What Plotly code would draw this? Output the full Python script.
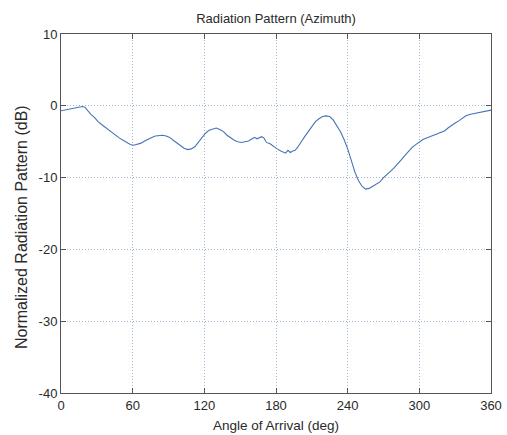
import plotly.graph_objects as go

angle_deg = [0, 3, 6, 9, 12, 15, 18, 20, 22, 25, 28, 31, 34, 37, 40, 43, 46, 49, 52, 55,
             58, 61, 64, 67, 70, 73, 76, 79, 82, 85, 88, 91, 94, 97, 100, 103, 106, 109, 112, 115,
             118, 121, 124, 127, 130, 133, 136, 139, 142, 145, 148, 151, 154, 157, 160, 162, 164, 166, 168, 170,
             172, 175, 178, 181, 184, 186, 188, 190, 192, 194, 196, 198, 201, 204, 207, 210, 213, 216, 219, 222,
             225, 228, 231, 234, 237, 240, 243, 246, 249, 252, 255, 258, 261, 264, 267, 270, 273, 276, 279, 282,
             285, 288, 291, 294, 297, 300, 303, 306, 309, 312, 315, 318, 321, 324, 327, 330, 333, 336, 339, 342,
             345, 348, 351, 354, 357, 360]
pattern_db = [-0.7, -0.6, -0.6, -0.5, -0.4, -0.3, -0.1, -0.2, -0.6, -1.2, -1.6, -2.2, -2.6, -3.0, -3.3, -3.7, -4.1, -4.5, -4.8, -5.1,
              -5.4, -5.5, -5.4, -5.2, -4.9, -4.6, -4.4, -4.2, -4.1, -4.1, -4.2, -4.4, -4.8, -5.2, -5.6, -5.9, -6.1, -6.0, -5.7, -5.1,
              -4.4, -3.8, -3.4, -3.2, -3.1, -3.3, -3.6, -4.1, -4.5, -4.8, -5.0, -5.1, -5.0, -4.9, -4.6, -4.4, -4.6, -4.5, -4.3, -4.5,
              -5.1, -5.3, -5.7, -6.0, -6.3, -6.5, -6.6, -6.2, -6.5, -6.3, -6.2, -5.8, -5.0, -4.3, -3.6, -2.9, -2.2, -1.8, -1.5, -1.4,
              -1.5, -2.0, -2.8, -3.6, -4.7, -6.0, -7.6, -9.2, -10.4, -11.2, -11.6, -11.5, -11.2, -10.9, -10.6, -10.0, -9.6, -9.1, -8.6, -8.1,
              -7.5, -6.9, -6.3, -5.8, -5.4, -5.0, -4.7, -4.5, -4.3, -4.1, -3.9, -3.8, -3.5, -3.1, -2.7, -2.4, -2.1, -1.7, -1.4, -1.2,
              -1.1, -1.0, -0.9, -0.8, -0.7, -0.6]

x_ticks = [0, 60, 120, 180, 240, 300, 360]
y_ticks = [-40, -30, -20, -10, 0, 10]

title_text = "Radiation Pattern (Azimuth)"
x_title = "Angle of Arrival (deg)"
y_title = "Normalized Radiation Pattern (dB)"

font_family = "Liberation Sans, Arial, sans-serif"
ink = "#2a2a2a"

fig = go.Figure()
fig.add_trace(go.Scatter(x=angle_deg, y=pattern_db, mode="lines",
                         line=dict(color="#4575b4", width=1.1), showlegend=False))

axis_common = dict(
    showline=True, linecolor="#555555", linewidth=1, mirror="ticks",
    ticks="inside", ticklen=5, tickcolor="#555555",
    showgrid=True, gridcolor="#9fb8d8", griddash="1px,2px", gridwidth=1,
    zeroline=False, tickfont=dict(family=font_family, size=13, color=ink), automargin=False,
)

fig.update_layout(
    width=507, height=435,
    margin=dict(l=61, r=16, t=34, b=42),
    paper_bgcolor="white", plot_bgcolor="white",
    title=dict(text=title_text, x=276 / 507, xref="container",
               xanchor="center", y=1 - 18 / 435, yanchor="middle",
               font=dict(family=font_family, size=13, color=ink)),
    xaxis=dict(range=[0, 360], tickvals=x_ticks, ticktext=[str(v) for v in x_ticks], **axis_common),
    yaxis=dict(range=[-40, 10], tickvals=y_ticks, ticktext=[str(v) for v in y_ticks], **axis_common),
    annotations=[
        dict(text=x_title, xref="paper", yref="paper", x=0.5, y=0, yshift=-32,
             xanchor="center", yanchor="middle", showarrow=False,
             font=dict(family=font_family, size=13.5, color=ink)),
        dict(text=y_title, xref="paper", yref="paper", x=0, y=(393 - 227) / 359, xshift=-40,
             xanchor="center", yanchor="middle", textangle=-90, showarrow=False,
             font=dict(family=font_family, size=16, color=ink)),
    ],
)

fig.write_html("out.html")
